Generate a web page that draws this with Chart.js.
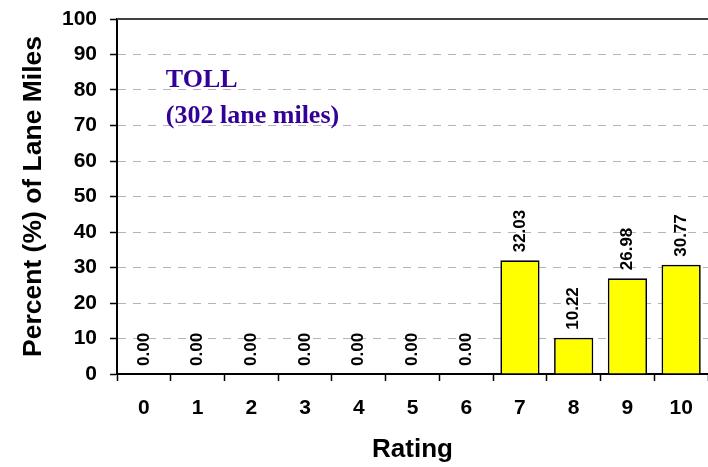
<!DOCTYPE html>
<html>
<head>
<meta charset="utf-8">
<script src="https://cdn.jsdelivr.net/npm/chart.js@4"></script>
<style>
  body { margin: 0; background: #fff; }
  #wrap { width: 708px; height: 467px; }
</style>
</head>
<body>
<div id="wrap"><canvas id="myChart"></canvas></div>
<script>
const ratings = ['0', '1', '2', '3', '4', '5', '6', '7', '8', '9', '10'];
const percents = [0, 0, 0, 0, 0, 0, 0, 32.03, 10.22, 26.98, 30.77];
const noteLines = ['TOLL', '(302 lane miles)'];

const FONT = '"Liberation Sans", Arial, sans-serif';

// value labels above bars, rotated, plus the note text and top frame line
const extras = {
  id: 'extras',
  afterDatasetsDraw(chart) {
    const ctx = chart.ctx;
    const area = chart.chartArea;
    ctx.save();
    ctx.strokeStyle = '#404040';
    ctx.lineWidth = 2;
    ctx.beginPath();
    ctx.moveTo(area.left, area.top);
    ctx.lineTo(area.right, area.top);
    ctx.stroke();

    ctx.fillStyle = '#000';
    ctx.font = 'bold 17px ' + FONT;
    ctx.textAlign = 'left';
    ctx.textBaseline = 'middle';
    chart.getDatasetMeta(0).data.forEach((bar, i) => {
      ctx.save();
      ctx.translate(bar.x, bar.y - 8);
      ctx.rotate(-Math.PI / 2);
      ctx.fillText(percents[i].toFixed(2), 0, 0);
      ctx.restore();
    });

    const x = chart.scales.x.getPixelForValue(0) + 22;
    ctx.fillStyle = '#330099';
    ctx.font = 'bold 26px "Liberation Serif", "Times New Roman", serif';
    ctx.textBaseline = 'alphabetic';
    ctx.fillText(noteLines[0], x, chart.scales.y.getPixelForValue(80.8));
    ctx.fillText(noteLines[1], x, chart.scales.y.getPixelForValue(70.7));
    ctx.restore();
  }
};

const ctx = document.getElementById('myChart').getContext('2d');
const myChart = new Chart(ctx, {
  type: 'bar',
  data: {
    labels: ratings,
    datasets: [{
      data: percents,
      backgroundColor: '#ffff00',
      borderColor: '#000',
      borderWidth: 1.7,
      borderSkipped: 'bottom',
      categoryPercentage: 1,
      barPercentage: 0.73
    }]
  },
  options: {
    responsive: true,
    maintainAspectRatio: false,
    animation: false,
    layout: { padding: { top: 19, right: 0, left: 0, bottom: 0 } },
    plugins: {
      legend: { display: false },
      tooltip: { enabled: false }
    },
    scales: {
      x: {
        afterFit: (s) => { s.height = 93; s.paddingLeft = 0; s.paddingRight = 0; },
        grid: { drawOnChartArea: false, tickLength: 7, tickColor: '#000', tickWidth: 1.5 },
        border: { color: '#000', width: 2 },
        ticks: { color: '#000', padding: 15, font: { family: FONT, size: 21, weight: 'bold' } },
        title: { display: true, text: 'Rating', color: '#000', padding: { top: 0, bottom: 2 },
                 font: { family: FONT, size: 26, weight: 'bold' } }
      },
      y: {
        min: 0,
        max: 100,
        afterFit: (s) => { s.width = 117; s.paddingTop = 0; s.paddingBottom = 0; },
        grid: { color: '#b4b4b4', lineWidth: 1, tickLength: 7, tickColor: '#000', tickWidth: 1.5 },
        border: { color: '#000', width: 2, dash: [8, 7] },
        ticks: { stepSize: 10, color: '#000', padding: 13, font: { family: FONT, size: 21, weight: 'bold' } },
        title: { display: true, text: 'Percent (%) of Lane Miles', color: '#000', padding: { top: 18, bottom: 0 },
                 font: { family: FONT, size: 26.5, weight: 'bold' } }
      }
    }
  },
  plugins: [extras]
});
</script>
</body>
</html>
